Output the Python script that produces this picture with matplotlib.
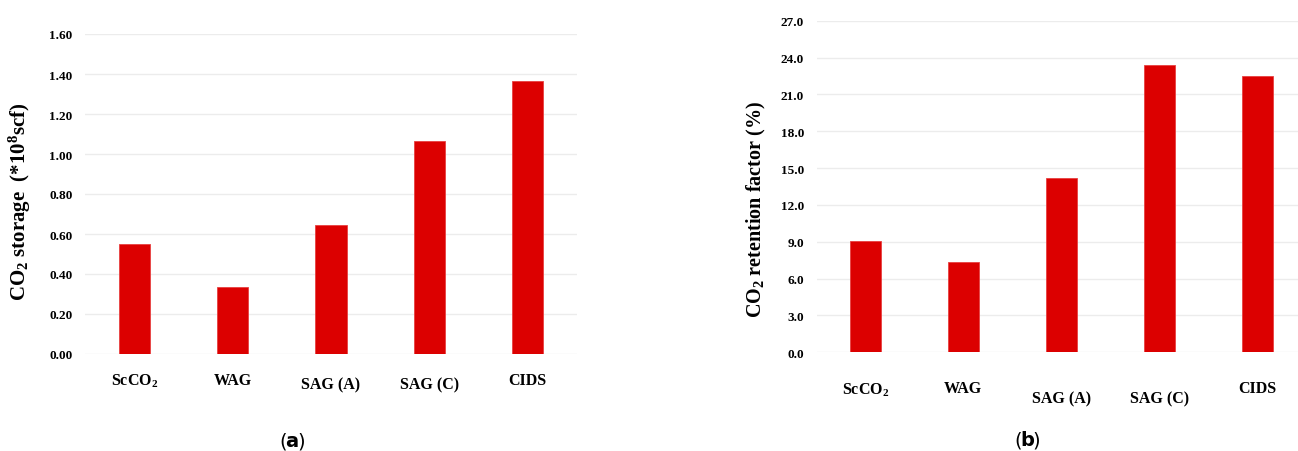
import matplotlib
matplotlib.use("Agg")
import matplotlib.pyplot as plt
import numpy as np

# Data
categories = ["ScCO$_2$", "WAG", "SAG (A)", "SAG (C)", "CIDS"]
co2_storage = [0.548, 0.337, 0.647, 1.066, 1.363]          # *10^8 scf
retention_factor = [9.06, 7.38, 14.22, 23.42, 22.50]       # %
storage_ticks = [0.0, 0.2, 0.4, 0.6, 0.8, 1.0, 1.2, 1.4, 1.6]
retention_ticks = [0.0, 3.0, 6.0, 9.0, 12.0, 15.0, 18.0, 21.0, 24.0, 27.0]

plt.rcParams["font.family"] = ["Liberation Serif", "DejaVu Serif"]
plt.rcParams["font.weight"] = "bold"
plt.rcParams["mathtext.fontset"] = "custom"
plt.rcParams["mathtext.rm"] = "Liberation Serif:bold"
plt.rcParams["mathtext.it"] = "Liberation Serif:bold"
plt.rcParams["mathtext.bf"] = "Liberation Serif:bold"

BAR_COLOR = "#dc0000"
GRID_COLOR = "#ececec"

fig = plt.figure(figsize=(12.98, 4.52), dpi=100)

ax1 = fig.add_axes([85 / 1298, 97 / 452, 492 / 1298, 320 / 452])
ax2 = fig.add_axes([816.5 / 1298, 98.7 / 452, 489.5 / 1298, 331.6 / 452])


def style_axis(ax, values, ticks, fmt, label_gap, sag_drop):
    x = np.arange(len(categories))
    ax.set_axisbelow(True)
    ax.bar(x, values, width=0.316, color=BAR_COLOR, edgecolor="#e84040",
           linewidth=0.6, zorder=3)
    ax.set_xlim(-0.5, len(categories) - 0.5)
    ax.set_ylim(ticks[0], ticks[-1])
    ax.set_yticks(ticks)
    ax.set_yticklabels([fmt.format(t) for t in ticks], fontsize=9.5,
                       fontweight="bold")
    ax.yaxis.grid(True, color=GRID_COLOR, linewidth=1.0)
    ax.tick_params(axis="both", length=0, pad=9)
    ax.set_xticks([])
    for s in ax.spines.values():
        s.set_visible(False)
    for i, name in enumerate(categories):
        drop = sag_drop if name.startswith("SAG") else 0
        ax.annotate(name, xy=(i, 0), xycoords=("data", "axes fraction"),
                    xytext=(0, -label_gap - drop), textcoords="offset pixels",
                    ha="center", va="top", fontsize=11.5, fontweight="bold")
    return ax


style_axis(ax1, co2_storage, storage_ticks, "{:.2f}", 18, 4)
style_axis(ax2, retention_factor, retention_ticks, "{:.1f}", 28, 10)

fig.text(20 / 1298, 1 - 202 / 452, r"CO$_2$ storage  (*10$^8$scf)",
         rotation=90, ha="center", va="center", fontsize=15, fontweight="bold")
fig.text(756 / 1298, 1 - 209 / 452, r"CO$_2$ retention factor (%)",
         rotation=90, ha="center", va="center", fontsize=14.5,
         fontweight="bold")


def panel_tag(xc, yc, letter):
    fig.text(xc / 1298, 1 - yc / 452, letter, ha="center", va="center",
             fontsize=14, fontweight="bold", family="DejaVu Sans")
    fig.text((xc - 5.5) / 1298, 1 - yc / 452, "(", ha="right", va="center",
             fontsize=14, fontweight="normal", family="DejaVu Sans")
    fig.text((xc + 5.5) / 1298, 1 - yc / 452, ")", ha="left", va="center",
             fontsize=14, fontweight="normal", family="DejaVu Sans")


panel_tag(292, 442, "a")
panel_tag(1027, 441, "b")

fig.savefig("out.png", dpi=100, facecolor="white")
